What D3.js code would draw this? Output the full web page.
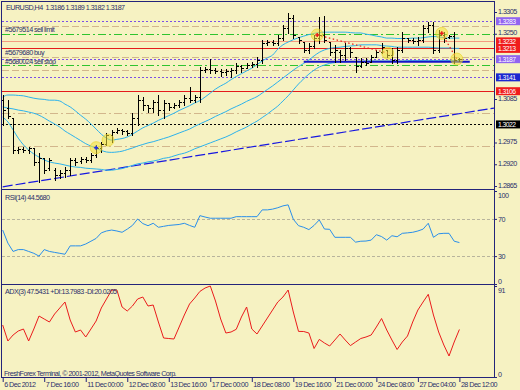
<!DOCTYPE html>
<html><head><meta charset="utf-8">
<script src="https://cdn.jsdelivr.net/npm/d3@7"></script>
<style>
body{margin:0;background:#f6f2c2}
svg{display:block}
text{font-family:"Liberation Sans",Arial,sans-serif;font-size:7.2px;letter-spacing:-0.55px}
</style></head><body>
<svg id="c" width="520" height="390"></svg>
<script>
// ---------------- DATA ----------------
const timeLabels = ["6 Dec 2012","7 Dec 16:00","11 Dec 00:00","12 Dec 08:00","13 Dec 16:00","17 Dec 00:00","18 Dec 08:00","19 Dec 16:00","21 Dec 00:00","24 Dec 08:00","27 Dec 04:00","28 Dec 12:00"];
const priceTicks = [1.3305,1.3250,1.3085,1.2975,1.2920,1.2865];
const opens = [1.3082,1.3062,1.3037,1.2956,1.2959,1.2956,1.2961,1.2926,1.2936,1.2910,1.2905,1.2893,1.2898,1.2905,1.2931,1.2928,1.2933,1.2931,1.2943,1.2961,1.2971,1.2994,1.3002,1.3007,1.3004,1.2999,1.3037,1.3082,1.3070,1.3062,1.3077,1.3057,1.3075,1.3065,1.3070,1.3077,1.3087,1.3082,1.3090,1.3158,1.3161,1.3158,1.3156,1.3153,1.3156,1.3158,1.3168,1.3163,1.3171,1.3173,1.3184,1.3227,1.3229,1.3227,1.3239,1.3265,1.3290,1.3242,1.3229,1.3209,1.3219,1.3239,1.3247,1.3229,1.3204,1.3204,1.3196,1.3214,1.3191,1.3168,1.3179,1.3179,1.3191,1.3204,1.3209,1.3196,1.3184,1.3209,1.3239,1.3234,1.3232,1.3234,1.3265,1.3272,1.3209,1.3247,1.3242,1.3244,1.3186];
const highs = [1.3095,1.3082,1.3037,1.2964,1.2964,1.2964,1.2961,1.2948,1.2936,1.2936,1.2910,1.2905,1.2913,1.2936,1.2936,1.2938,1.2938,1.2948,1.2969,1.2976,1.2999,1.3007,1.3012,1.3009,1.3007,1.3049,1.3095,1.3090,1.3070,1.3082,1.3095,1.3082,1.3075,1.3075,1.3082,1.3095,1.3115,1.3095,1.3166,1.3166,1.3186,1.3163,1.3161,1.3161,1.3163,1.3176,1.3171,1.3176,1.3179,1.3191,1.3234,1.3234,1.3234,1.3247,1.3272,1.3302,1.3297,1.3242,1.3229,1.3227,1.3247,1.3292,1.3295,1.3229,1.3222,1.3209,1.3227,1.3216,1.3191,1.3189,1.3189,1.3196,1.3209,1.3227,1.3209,1.3214,1.3216,1.3254,1.3239,1.3239,1.3242,1.3272,1.3280,1.3280,1.3259,1.3254,1.3247,1.3254,1.3189];
const lows = [1.3019,1.3037,1.2948,1.2948,1.2951,1.2948,1.2918,1.2875,1.2898,1.2905,1.2880,1.2885,1.2888,1.2893,1.2918,1.2923,1.2926,1.2926,1.2938,1.2951,1.2969,1.2976,1.2999,1.2996,1.2994,1.2994,1.3019,1.3057,1.3052,1.3052,1.3044,1.3037,1.3057,1.3062,1.3065,1.3070,1.3077,1.3077,1.3077,1.3153,1.3151,1.3151,1.3143,1.3146,1.3141,1.3151,1.3153,1.3163,1.3166,1.3166,1.3176,1.3222,1.3222,1.3222,1.3234,1.3252,1.3239,1.3227,1.3204,1.3201,1.3214,1.3227,1.3229,1.3196,1.3179,1.3179,1.3184,1.3191,1.3153,1.3166,1.3171,1.3179,1.3191,1.3201,1.3191,1.3176,1.3176,1.3204,1.3229,1.3227,1.3222,1.3229,1.3254,1.3201,1.3204,1.3229,1.3239,1.3176,1.3182];
const closes = [1.3057,1.3042,1.2956,1.2959,1.2956,1.2961,1.2926,1.2936,1.2905,1.2931,1.2893,1.2898,1.2905,1.2931,1.2926,1.2933,1.2931,1.2943,1.2961,1.2971,1.2994,1.3002,1.3007,1.3004,1.2999,1.3037,1.3082,1.3070,1.3062,1.3077,1.3057,1.3075,1.3065,1.3070,1.3077,1.3087,1.3082,1.3090,1.3158,1.3161,1.3158,1.3156,1.3153,1.3156,1.3158,1.3168,1.3163,1.3171,1.3173,1.3184,1.3227,1.3229,1.3227,1.3239,1.3265,1.3290,1.3247,1.3234,1.3209,1.3219,1.3239,1.3247,1.3234,1.3204,1.3209,1.3196,1.3214,1.3204,1.3168,1.3179,1.3176,1.3191,1.3204,1.3216,1.3196,1.3184,1.3209,1.3239,1.3234,1.3232,1.3234,1.3265,1.3272,1.3209,1.3247,1.3239,1.3244,1.3184,1.3187];
const bandUpper = [1.3090,1.3095,1.3095,1.3094,1.3093,1.3090,1.3087,1.3085,1.3084,1.3082,1.3082,1.3080,1.3072,1.3065,1.3055,1.3044,1.3034,1.3022,1.3009,1.2996,1.2986,1.2981,1.2983,1.2985,1.2989,1.2996,1.3004,1.3012,1.3018,1.3024,1.3031,1.3037,1.3043,1.3049,1.3056,1.3062,1.3068,1.3075,1.3081,1.3090,1.3100,1.3110,1.3118,1.3125,1.3134,1.3142,1.3149,1.3156,1.3163,1.3172,1.3181,1.3189,1.3196,1.3211,1.3222,1.3229,1.3235,1.3240,1.3244,1.3248,1.3251,1.3253,1.3254,1.3254,1.3254,1.3254,1.3254,1.3253,1.3252,1.3252,1.3249,1.3247,1.3244,1.3242,1.3239,1.3239,1.3238,1.3238,1.3238,1.3239,1.3239,1.3240,1.3242,1.3243,1.3242,1.3240,1.3239,1.3239,1.3239];
const bandMiddle = [1.3065,1.3062,1.3060,1.3057,1.3055,1.3052,1.3049,1.3044,1.3037,1.3029,1.3022,1.3014,1.3004,1.2996,1.2988,1.2980,1.2972,1.2966,1.2960,1.2955,1.2951,1.2950,1.2951,1.2953,1.2957,1.2961,1.2966,1.2970,1.2974,1.2977,1.2981,1.2985,1.2989,1.2994,1.2999,1.3004,1.3009,1.3016,1.3022,1.3028,1.3034,1.3041,1.3047,1.3053,1.3060,1.3066,1.3072,1.3079,1.3085,1.3091,1.3100,1.3109,1.3118,1.3128,1.3138,1.3148,1.3158,1.3167,1.3175,1.3184,1.3194,1.3203,1.3209,1.3213,1.3215,1.3216,1.3218,1.3219,1.3220,1.3222,1.3222,1.3222,1.3222,1.3220,1.3219,1.3218,1.3216,1.3216,1.3216,1.3216,1.3216,1.3216,1.3216,1.3215,1.3214,1.3214,1.3214,1.3213,1.3213];
const bandLower = [1.3039,1.3027,1.3007,1.2986,1.2969,1.2956,1.2946,1.2938,1.2931,1.2926,1.2923,1.2921,1.2918,1.2915,1.2913,1.2912,1.2910,1.2909,1.2908,1.2907,1.2905,1.2905,1.2907,1.2909,1.2913,1.2917,1.2921,1.2923,1.2926,1.2928,1.2931,1.2935,1.2937,1.2941,1.2945,1.2948,1.2953,1.2959,1.2964,1.2969,1.2974,1.2979,1.2984,1.2989,1.2995,1.3002,1.3008,1.3014,1.3022,1.3029,1.3038,1.3047,1.3057,1.3067,1.3080,1.3093,1.3108,1.3123,1.3136,1.3148,1.3158,1.3166,1.3171,1.3175,1.3177,1.3179,1.3179,1.3180,1.3180,1.3180,1.3181,1.3181,1.3181,1.3181,1.3181,1.3181,1.3181,1.3181,1.3182,1.3182,1.3182,1.3182,1.3182,1.3182,1.3182,1.3182,1.3182,1.3182,1.3182];
const rsiValues = [58,44,35,37,37,35,33,30,37,35,34,33,32,41,41,41,43,46,49,55,57,58,57,55.6,59,63,69.9,65,62.7,65.3,61,62,63,63.5,64,65.3,63,61,73.5,72,70.7,70.7,70.7,70.7,70.7,72.4,72.4,72.4,72.4,72.4,79.7,79.7,80.5,82,84,85.1,69.6,62.7,61,58.5,63,68.9,59.1,58.8,50.2,50.2,50.2,50.2,45,46,46.2,47.2,53,51,47.2,51.9,50.8,54.5,55,55.6,57,59,65.3,50.2,54,54.5,54.5,46,44.568];
const adxValues = [52,36,42,46,48,36,48,61,58,55,63,69,75,57,45,47,40,48,56,69,78,87,87,70,66,71,78,80,71,72,55,39,38.5,38,50,62,73,79,85.6,89,91,76,58,44,45,47.7,60,70,48,43,51,59,67,75,80,87,65,45.6,45.5,44,28.5,37.6,34,31,37,43,37,31.4,35,38.5,40,42,50,58.5,47,37,27.5,35,41,55,67,75,82.7,62,45,32,21,35,47.5431];
// price levels drawn across the chart and their kinds
const levelPrices = [1.3283,1.3270,1.3250,1.3232,1.3213,1.3192,1.3187,1.3170,1.3158,1.3141,1.3106,1.3050,1.3022,1.2966];
const levelKinds  = ["purple","tan","green","salmon","red","tan","purple","green","tan","purple","red","tandot","black","tandot"];
// boxed price markers on the right axis
const markerPrices = [1.3283,1.3232,1.3213,1.3187,1.3141,1.3106,1.3022];
const markerKinds  = ["violet","red","red","violet","blue","red","black"];
// order labels
const orderLabels = ["#5679514 sell limit","#5679680 buy","#5680024 sell stop"];
const orderPrices = [1.3250,1.3192,1.3170];
// highlighted signal points (bar index, price)
const signalIdx = [18,20.3,60.6,74.2,84.6,87.5];
const signalPrice = [1.2962,1.2981,1.3247,1.3201,1.3251,1.3186];
// trend line (bar index, price)
const trendIdx = [0,88];
const trendPrice = [1.2863,1.3048];
// support line
const supportIdx = [58,90];
const supportPrice = 1.3179;
const title = "EURUSD,H4  1.3186 1.3189 1.3182 1.3187";
const rsiLabel = "RSI(14) 44.5680";
const adxLabel = "ADX(3) 47.5431 +DI:13.7983 -DI:20.0205";
const copyright = "FreshForex Terminal, \u00a9 2001-2012, MetaQuotes Software Corp.";

// ---------------- DRAW ----------------
const svg = d3.select("#c");
const BG = "#f6f2c2", NAVY = "#24247a", TXT = "#2b2f6b";
svg.append("rect").attr("width",520).attr("height",390).attr("fill",BG);

const xRight = 494;
const x = d3.scaleLinear().domain([0,88]).range([2.7,459.4]);
const yP = d3.scaleLinear().domain([1.2865,1.3305]).range([186,12]);
const yR = d3.scaleLinear().domain([0,100]).range([284,191]);
const yA = d3.scaleLinear().domain([0,91]).range([377,286]);

const defs = svg.append("defs");
function clip(id,y0,y1){defs.append("clipPath").attr("id",id).append("rect").attr("x",2).attr("y",y0).attr("width",xRight-2).attr("height",y1-y0);}
clip("cm",2,189); clip("cr",190,284); clip("ca",285,377);

const main = svg.append("g").attr("clip-path","url(#cm)");
const levelStyle = {
  purple:{s:"#7b4fe6",d:"2,2"},
  tan:{s:"#d2b68c",d:"7,3"},
  tandot:{s:"#d2b68c",d:"8,3,2,3"},
  green:{s:"#2fc42f",d:"8,3,2,3"},
  salmon:{s:"#f49a80",d:null},
  red:{s:"#e41b1b",d:null},
  black:{s:"#000000",d:"2,2"}
};
levelPrices.forEach((p,i)=>{
  const st = levelStyle[levelKinds[i]];
  const yy = Math.round(yP(p))+0.5;
  main.append("line").attr("x1",2).attr("x2",xRight).attr("y1",yy).attr("y2",yy)
    .attr("stroke",st.s).attr("stroke-width",1).attr("stroke-dasharray",st.d);
});

// trend line (ray to the right edge)
const tSlope = (trendPrice[1]-trendPrice[0])/(trendIdx[1]-trendIdx[0]);
const idxEnd = x.invert(xRight);
main.append("line")
  .attr("x1",x(trendIdx[0])).attr("y1",yP(trendPrice[0]))
  .attr("x2",x(idxEnd)).attr("y2",yP(trendPrice[0]+tSlope*(idxEnd-trendIdx[0])))
  .attr("stroke","#1818e0").attr("stroke-width",1.2).attr("stroke-dasharray","10,3");

// bands
const idx = d3.range(opens.length);
[bandUpper,bandMiddle,bandLower].forEach(b=>{
  main.append("path").datum(idx)
    .attr("d",d3.line().x(i=>x(i)).y(i=>yP(b[i])).curve(d3.curveMonotoneX))
    .attr("fill","none").attr("stroke","#2cb2ec").attr("stroke-width",1);
});

// support line
main.append("line").attr("x1",x(supportIdx[0])).attr("x2",x(supportIdx[1]))
  .attr("y1",yP(supportPrice)).attr("y2",yP(supportPrice))
  .attr("stroke","#1414c8").attr("stroke-width",2);

// OHLC bars
const bars = main.append("g").attr("stroke","#000").attr("stroke-width",1).attr("shape-rendering","crispEdges");
idx.forEach(i=>{
  const cx = Math.round(x(i))+0.5;
  bars.append("line").attr("x1",cx).attr("x2",cx).attr("y1",Math.round(yP(highs[i]))).attr("y2",Math.round(yP(lows[i]))+1);
  const yo = Math.round(yP(opens[i]))+0.5, yc = Math.round(yP(closes[i]))+0.5;
  bars.append("line").attr("x1",cx-2).attr("x2",cx).attr("y1",yo).attr("y2",yo);
  bars.append("line").attr("x1",cx).attr("x2",cx+2).attr("y1",yc).attr("y2",yc);
});

// zigzag dotted red segments
[[2,3],[4,5]].forEach(([a,b])=>{
  main.append("line").attr("x1",x(signalIdx[a])).attr("y1",yP(signalPrice[a]))
    .attr("x2",x(signalIdx[b])).attr("y2",yP(signalPrice[b]))
    .attr("stroke","#e82020").attr("stroke-width",1.2).attr("stroke-dasharray","1.5,2.5");
});
// signal circles
signalIdx.forEach((si,k)=>{
  main.append("circle").attr("cx",x(si)).attr("cy",yP(signalPrice[k])).attr("r",6)
    .attr("fill","#f2e23a").attr("fill-opacity",0.55).attr("stroke","#e8d020").attr("stroke-opacity",0.6);
});
[[0,"#2030e0"],[2,"#e82020"],[4,"#e82020"]].forEach(([k,c])=>{
  const cx=x(signalIdx[k]), cy=yP(signalPrice[k]);
  main.append("path").attr("d",`M${cx-2},${cy}H${cx+2}M${cx},${cy-2}V${cy+2}`).attr("stroke",c).attr("stroke-width",1.5);
});

// texts in main pane
svg.append("text").attr("x",6).attr("y",10).attr("fill",TXT).attr("xml:space","preserve").text(title);
orderLabels.forEach((t,i)=>{
  svg.append("text").attr("x",5).attr("y",yP(orderPrices[i])-1.5).attr("fill",TXT).text(t);
});

// RSI pane
const rp = svg.append("g").attr("clip-path","url(#cr)");
[70,30].forEach(v=>rp.append("line").attr("x1",2).attr("x2",xRight).attr("y1",Math.round(yR(v))+0.5).attr("y2",Math.round(yR(v))+0.5)
  .attr("stroke","#b8b49c").attr("stroke-dasharray","3,2"));
rp.append("path").datum(idx).attr("d",d3.line().x(i=>x(i)).y(i=>yR(rsiValues[i])))
  .attr("fill","none").attr("stroke","#2a8fea").attr("stroke-width",1);
svg.append("text").attr("x",5).attr("y",200).attr("fill",TXT).text(rsiLabel);

// ADX pane
const ap = svg.append("g").attr("clip-path","url(#ca)");
ap.append("path").datum(idx).attr("d",d3.line().x(i=>x(i)).y(i=>yA(adxValues[i])))
  .attr("fill","none").attr("stroke","#ea1c1c").attr("stroke-width",1);
svg.append("text").attr("x",5).attr("y",294).attr("fill",TXT).text(adxLabel);
svg.append("text").attr("x",4).attr("y",376).attr("fill",TXT).text(copyright);

// frame
const frame = svg.append("g").attr("stroke",NAVY).attr("fill","none").attr("shape-rendering","crispEdges");
frame.append("line").attr("x1",1.5).attr("x2",1.5).attr("y1",1).attr("y2",378);
frame.append("line").attr("x1",xRight+0.5).attr("x2",xRight+0.5).attr("y1",1).attr("y2",378);
[1.5,189.5,284.5,377.5].forEach(yy=>frame.append("line").attr("x1",1.5).attr("x2",xRight+0.5).attr("y1",yy).attr("y2",yy));

// axes
function styleAxis(g){
  g.select(".domain").remove();
  g.selectAll("line").attr("stroke",NAVY);
  g.selectAll("text").attr("fill",TXT).style("font-size","7.2px").style("font-family",'"Liberation Sans",Arial,sans-serif');
}
const axP = svg.append("g").attr("transform",`translate(${xRight},0)`)
  .call(d3.axisRight(yP).tickValues(priceTicks).tickSize(3).tickPadding(1).tickFormat(d3.format(".4f")));
styleAxis(axP);
axP.selectAll(".tick text").attr("dy","0.15em");
const axR = svg.append("g").attr("transform",`translate(${xRight},0)`)
  .call(d3.axisRight(yR).tickValues([100,70,30,0]).tickSize(3).tickPadding(1));
styleAxis(axR);
axR.selectAll(".tick text").attr("dy",d=>d===100?"0.9em":d===0?"-0.1em":"0.32em");
const axA = svg.append("g").attr("transform",`translate(${xRight},0)`)
  .call(d3.axisRight(yA).tickValues([91,0]).tickSize(3).tickPadding(1));
styleAxis(axA);
axA.selectAll(".tick text").attr("dy",d=>d===91?"0.9em":"-0.1em");

// boxed markers
const boxColor = {violet:"#9064f0",red:"#f01c1c",blue:"#1c28d0",black:"#000000"};
markerPrices.forEach((p,i)=>{
  const yy = yP(p);
  svg.append("rect").attr("x",xRight+2).attr("y",yy-3.5).attr("width",26).attr("height",8).attr("fill",boxColor[markerKinds[i]]);
  svg.append("text").attr("x",xRight+4).attr("y",yy+3).attr("fill","#fff").style("font-size","6.8px").text(d3.format(".4f")(p));
});

// time axis
const axT = svg.append("g").attr("transform","translate(0,378)")
  .call(d3.axisBottom(x).tickValues(d3.range(0,89,8)).tickSize(4).tickPadding(1).tickFormat((d,i)=>timeLabels[i]));
styleAxis(axT);
axT.selectAll(".tick text").attr("text-anchor","start").attr("dx","1").attr("dy","0.55em");
</script>
</body></html>
